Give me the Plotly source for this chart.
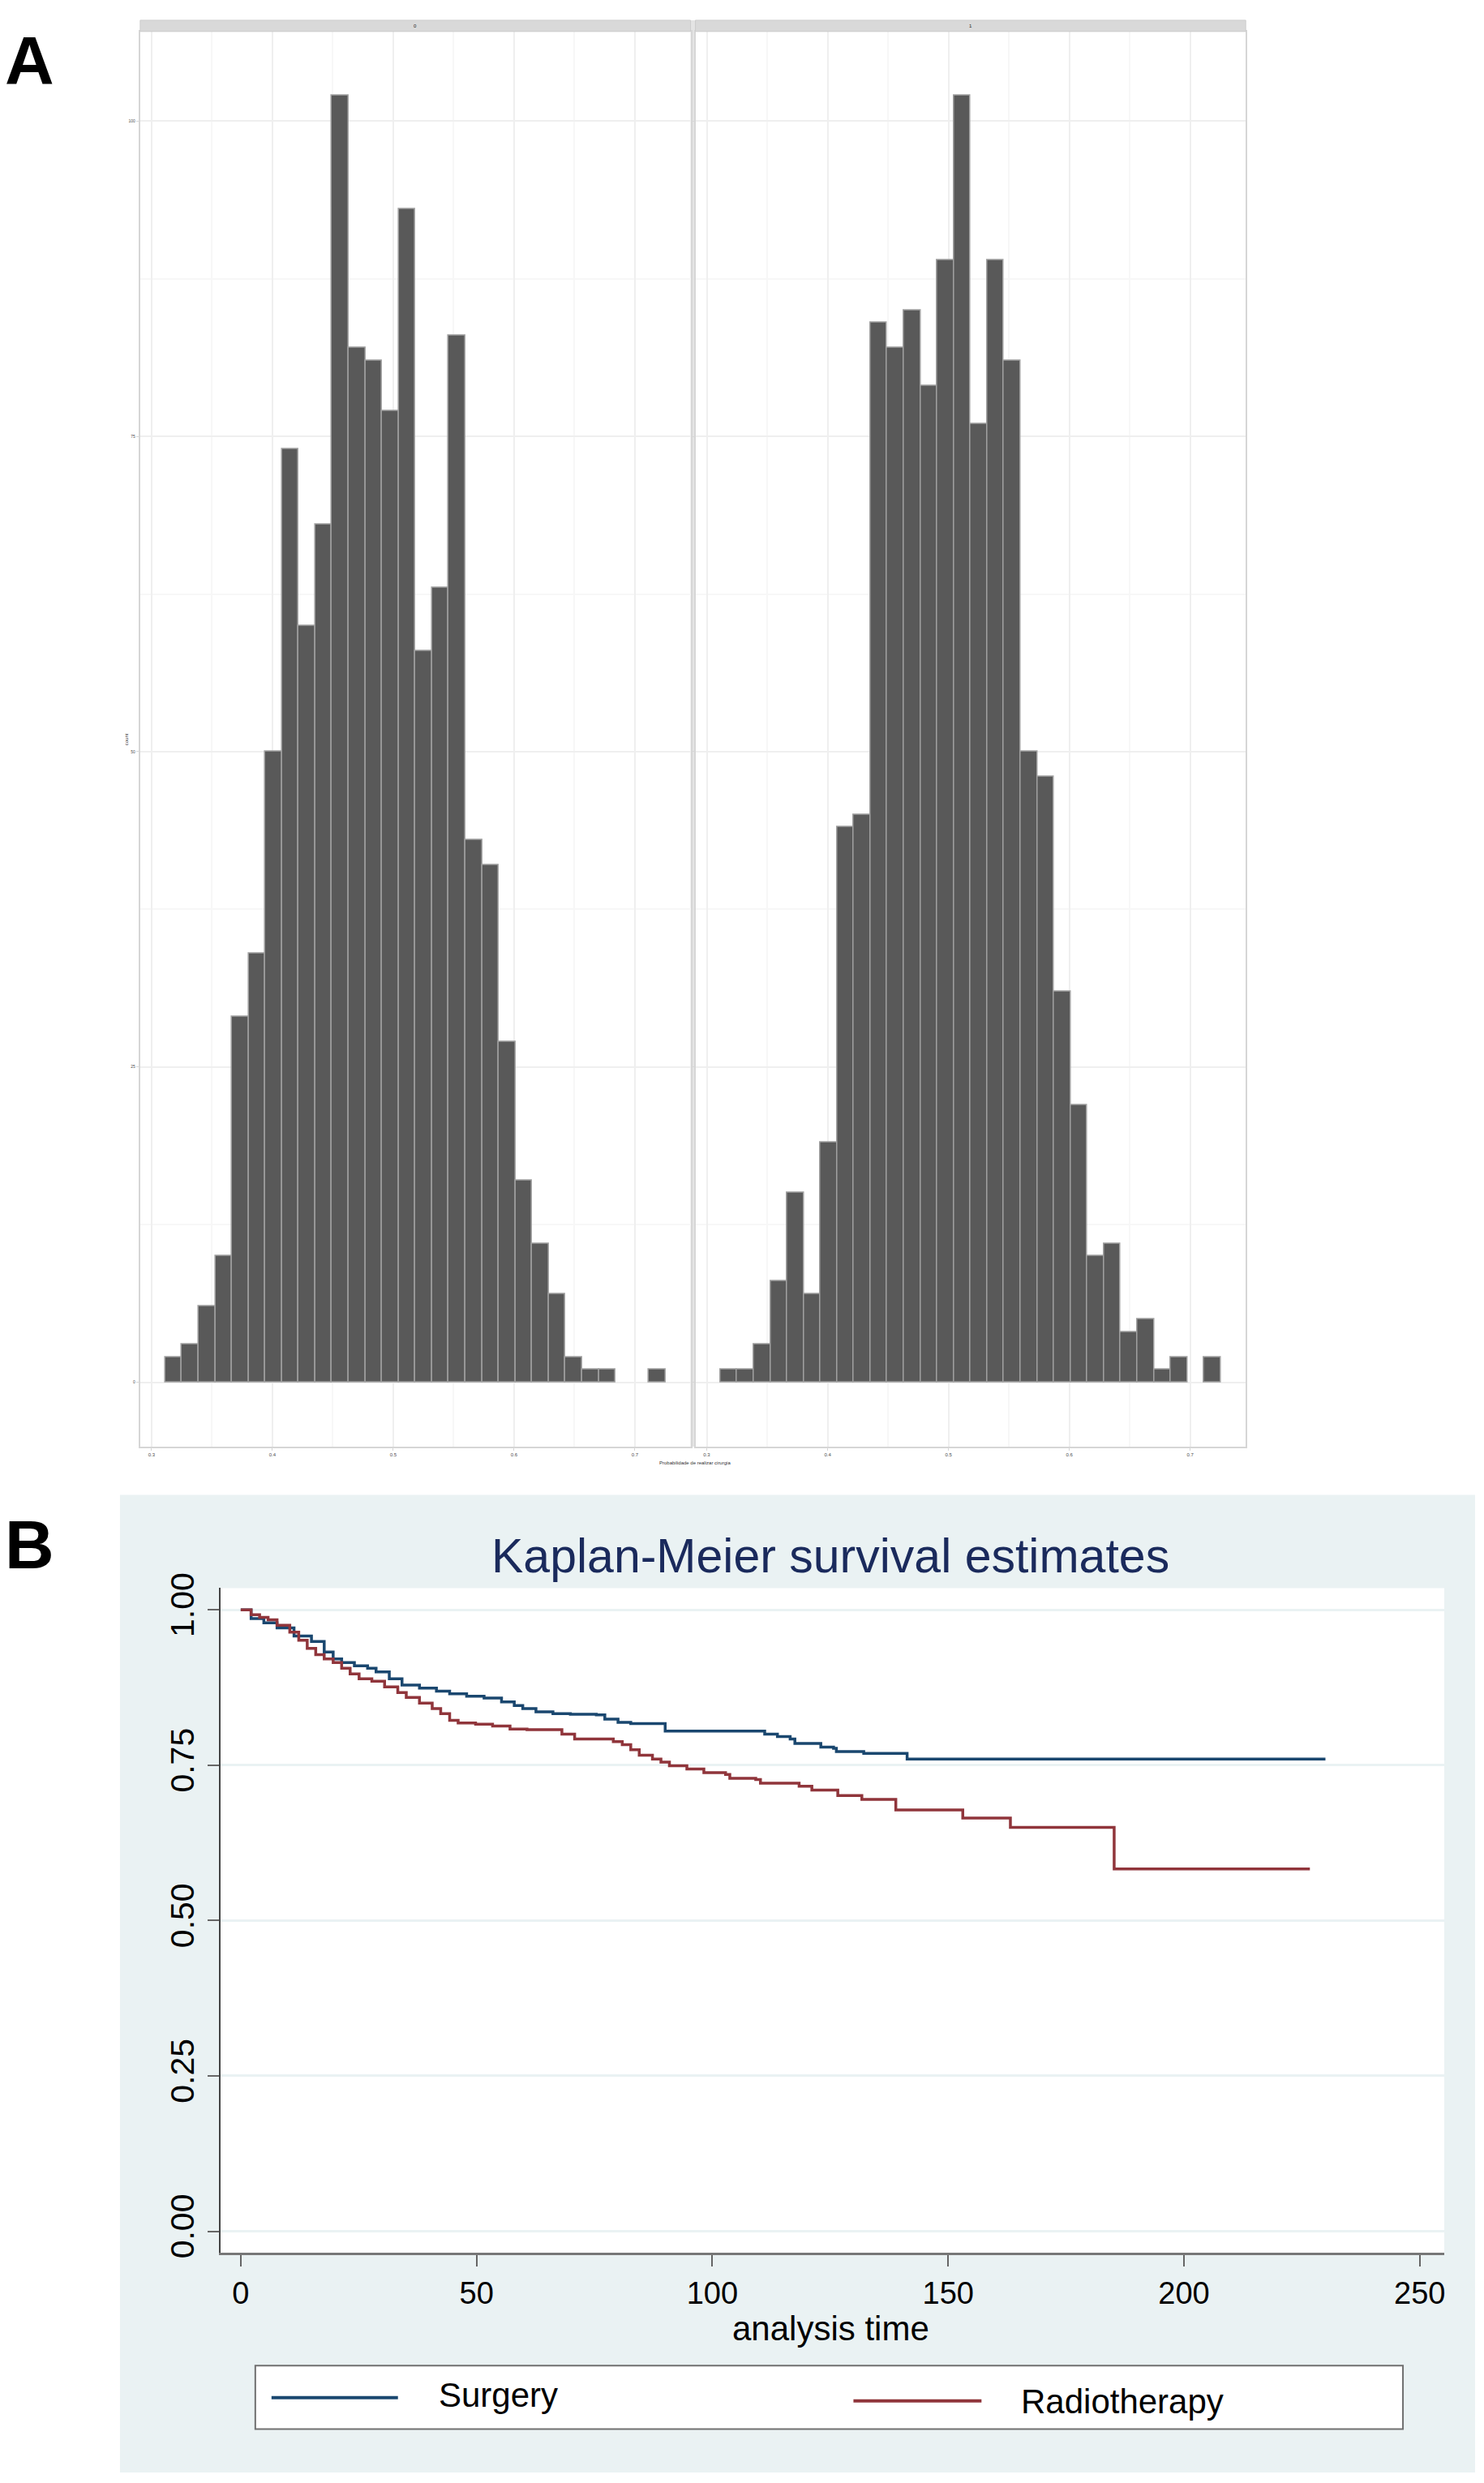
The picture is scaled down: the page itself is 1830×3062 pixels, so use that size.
import plotly.graph_objects as go

W, H = 1830, 3062

# ---- Panel A: histograms (counts per bin, 30 bins, shared bin edges) ----
bin_start = 0.3113
bin_width = 0.0138
counts_left = [2, 3, 6, 10, 29, 34, 50, 74, 60, 68, 102, 82, 81, 77, 93,
               58, 63, 83, 43, 41, 27, 16, 11, 7, 2, 1, 1, 0, 0, 1]
counts_right = [1, 1, 3, 8, 15, 7, 19, 44, 45, 84, 82, 85, 79, 89, 102,
                76, 89, 81, 50, 48, 31, 22, 10, 11, 4, 5, 1, 2, 0, 2]
facet_labels = ["0", "1"]
hist_xticks = [0.3, 0.4, 0.5, 0.6, 0.7]
hist_xticktext = ["0.3", "0.4", "0.5", "0.6", "0.7"]
hist_yticks = [0, 25, 50, 75, 100]

# ---- Panel B: Kaplan-Meier estimates (time of step, survival after step) ----
surg_time = [0, 2.2, 4.9, 7.7, 11.3, 15.0, 17.7, 19.6, 21.4, 24.1, 26.9, 28.7,
             31.5, 34.2, 37.9, 41.5, 44.3, 47.9, 51.6, 55.3, 58.0, 59.8, 62.6,
             66.2, 69.9, 75.4, 77.2, 80.0, 82.7, 90.0, 111.1, 113.8, 116.5,
             117.5, 123.0, 125.7, 126.3, 132.1, 141.3, 230.0]
surg_surv = [1.0, 0.986, 0.979, 0.971, 0.958, 0.949, 0.932, 0.921, 0.915, 0.910,
             0.906, 0.900, 0.889, 0.879, 0.874, 0.869, 0.865, 0.861, 0.858,
             0.852, 0.846, 0.841, 0.836, 0.833, 0.832, 0.831, 0.824, 0.819,
             0.817, 0.805, 0.800, 0.796, 0.792, 0.785, 0.779, 0.777, 0.772,
             0.769, 0.760, 0.760]
radio_time = [0, 2.2, 4.0, 5.8, 7.7, 10.4, 12.3, 14.1, 15.9, 17.7, 19.6, 21.4,
              23.2, 25.1, 27.8, 30.5, 33.3, 35.1, 37.9, 40.6, 42.4, 44.3, 46.1,
              49.8, 53.4, 57.1, 60.7, 68.1, 70.8, 79.0, 80.9, 82.7, 84.5, 87.3,
              89.1, 90.9, 94.6, 98.2, 102.8, 103.7, 109.2, 110.2, 118.4, 121.1,
              126.6, 131.7, 138.9, 153.1, 163.2, 185.2, 226.7]
radio_surv = [1.0, 0.992, 0.988, 0.984, 0.975, 0.964, 0.951, 0.938, 0.928, 0.921,
              0.915, 0.906, 0.897, 0.889, 0.885, 0.876, 0.867, 0.859, 0.850,
              0.841, 0.833, 0.822, 0.818, 0.816, 0.813, 0.808, 0.807, 0.800,
              0.792, 0.788, 0.783, 0.775, 0.766, 0.760, 0.755, 0.749, 0.744,
              0.738, 0.735, 0.729, 0.727, 0.721, 0.716, 0.710, 0.701, 0.695,
              0.678, 0.665, 0.650, 0.583, 0.583]
km_xticks = [0, 50, 100, 150, 200, 250]
km_yticks = [0, 0.25, 0.5, 0.75, 1.0]
km_yticktext = ["0.00", "0.25", "0.50", "0.75", "1.00"]
group_names = ["Surgery", "Radiotherapy"]
group_colors = ["#1A476F", "#90353B"]


def fx(px):
    return px / W


def fy(py):
    return 1 - py / H


FONT = "Liberation Sans, Arial, Helvetica, sans-serif"
centers = [bin_start + (i + 0.5) * bin_width for i in range(len(counts_left))]

fig = go.Figure()

for counts, xa, ya in [(counts_left, "x", "y"), (counts_right, "x2", "y2")]:
    fig.add_trace(go.Bar(
        x=centers, y=[c if c > 0 else None for c in counts],
        width=bin_width, xaxis=xa, yaxis=ya,
        marker=dict(color="#595959", line=dict(color="#a0a0a0", width=1.5)),
        showlegend=False))

for t, s, name, col in zip([surg_time, radio_time], [surg_surv, radio_surv],
                           group_names, group_colors):
    fig.add_trace(go.Scatter(
        x=t, y=s, mode="lines", line=dict(color=col, width=3.5, shape="hv"),
        name=name, xaxis="x3", yaxis="y3", showlegend=False))

hist_x = dict(range=[0.2906, 0.746], tickvals=hist_xticks, ticktext=hist_xticktext,
              tickfont=dict(size=6, color="#4d4d4d"), showgrid=True,
              gridcolor="#efefef", gridwidth=1.5,
              minor=dict(tick0=0.35, dtick=0.1, showgrid=True, gridcolor="#f7f7f7"),
              showline=True, mirror=True, linecolor="#d6d6d6", linewidth=2,
              ticks="outside", ticklen=3, tickcolor="#d6d6d6", zeroline=False)
hist_y = dict(range=[-5.1, 107.1], tickvals=hist_yticks,
              tickfont=dict(size=5, color="#4d4d4d"), showgrid=True,
              gridcolor="#efefef", gridwidth=1.5,
              minor=dict(tick0=12.5, dtick=25, showgrid=True, gridcolor="#f7f7f7"),
              showline=True, mirror=True, linecolor="#d6d6d6", linewidth=2,
              ticks="outside", ticklen=3, tickcolor="#d6d6d6", zeroline=False,
              domain=[fy(1780), fy(20)])

fig.update_layout(
    width=W, height=H, margin=dict(l=0, r=0, t=0, b=0),
    paper_bgcolor="white", plot_bgcolor="white", bargap=0,
    font=dict(family=FONT, color="black"),
    xaxis=dict(hist_x, domain=[fx(173), fx(852)], anchor="y"),
    yaxis=dict(hist_y, anchor="x"),
    xaxis2=dict(hist_x, domain=[fx(858), fx(1537)], anchor="y2"),
    yaxis2=dict(hist_y, anchor="x2", matches="y", showticklabels=False),
    xaxis3=dict(domain=[fx(272), fx(1782)], anchor="y3", range=[-4.3, 255.2],
                tickvals=km_xticks, tickfont=dict(size=38, color="black"),
                ticks="outside", ticklen=14, tickwidth=2, tickcolor="#666666",
                showline=True, linecolor="#777777", linewidth=3,
                showgrid=False, zeroline=False),
    yaxis3=dict(domain=[fy(2783), fy(1956)], anchor="x3", range=[-0.035, 1.035],
                tickvals=km_yticks, ticktext=km_yticktext, tickangle=-90,
                tickfont=dict(size=41, color="black"),
                ticks="outside", ticklen=14, tickwidth=2, tickcolor="#666666",
                showline=True, linecolor="#444444", linewidth=2,
                showgrid=True, gridcolor="#EAF2F3", gridwidth=3, zeroline=False),
)

shapes = [
    # panel B graph region and plot region
    dict(type="rect", xref="paper", yref="paper", x0=fx(148), x1=fx(1820),
         y0=fy(3056), y1=fy(1840), fillcolor="#EAF2F3", line=dict(width=0),
         layer="below"),
    dict(type="rect", xref="paper", yref="paper", x0=fx(272), x1=fx(1782),
         y0=fy(2783), y1=fy(1956), fillcolor="white", line=dict(width=0),
         layer="below"),
    # gap between facets
    dict(type="rect", xref="paper", yref="paper", x0=fx(852), x1=fx(858),
         y0=fy(1780), y1=fy(6), fillcolor="#e4e4e4", line=dict(width=0),
         layer="below"),
    # legend box
    dict(type="rect", xref="paper", yref="paper", x0=fx(315), x1=fx(1731),
         y0=fy(3002), y1=fy(2923), fillcolor="white",
         line=dict(color="#707070", width=2)),
    dict(type="line", xref="paper", yref="paper", x0=fx(335), x1=fx(491),
         y0=fy(2963), y1=fy(2963), line=dict(color=group_colors[0], width=4)),
    dict(type="line", xref="paper", yref="paper", x0=fx(1053), x1=fx(1211),
         y0=fy(2967), y1=fy(2967), line=dict(color=group_colors[1], width=4)),
]
annotations = []
# facet strips
for (x0, x1), lab in zip([(173, 852), (858, 1537)], facet_labels):
    shapes.append(dict(type="rect", xref="paper", yref="paper", x0=fx(x0), x1=fx(x1),
                       y0=fy(20), y1=fy(6), fillcolor="#d9d9d9",
                       line=dict(color="#cccccc", width=1)))
    annotations.append(dict(x=fx((x0 + x1) / 2), y=fy(13), text=lab,
                            font=dict(size=6, color="#1a1a1a")))

annotations += [
    dict(x=fx(857), y=fy(1800), text="Probabilidade de realizar cirurgia",
         font=dict(size=6, color="#333333")),
    dict(x=fx(156), y=fy(900), text="count", textangle=-90,
         font=dict(size=6, color="#333333")),
    dict(x=fx(4), y=fy(56), xanchor="left", text="<b>A</b>",
         font=dict(size=84, color="black")),
    dict(x=fx(4), y=fy(1902), xanchor="left", text="<b>B</b>",
         font=dict(size=84, color="black")),
    dict(x=fx(1025), y=fy(1916), text="Kaplan-Meier survival estimates",
         font=dict(size=59, color="#1a2a5c")),
    dict(x=fx(1025), y=fy(2877), text="analysis time",
         font=dict(size=42, color="black")),
    dict(x=fx(539), y=fy(2960), xanchor="left", text=group_names[0],
         font=dict(size=42, color="black")),
    dict(x=fx(1258), y=fy(2968), xanchor="left", text=group_names[1],
         font=dict(size=42, color="black")),
]
for a in annotations:
    a.update(xref="paper", yref="paper", showarrow=False, yanchor="middle")
    a.setdefault("xanchor", "center")

fig.update_layout(shapes=shapes, annotations=annotations)

# pin the figure to the top-left corner of the page
pin = ("document.body.style.margin='0';"
       "document.documentElement.style.overflow='hidden';"
       "var gd=document.getElementById('{plot_id}');"
       "gd.style.position='absolute';gd.style.top='0';gd.style.left='0';")
fig.write_html("out.html", config={"displayModeBar": False}, post_script=pin)
